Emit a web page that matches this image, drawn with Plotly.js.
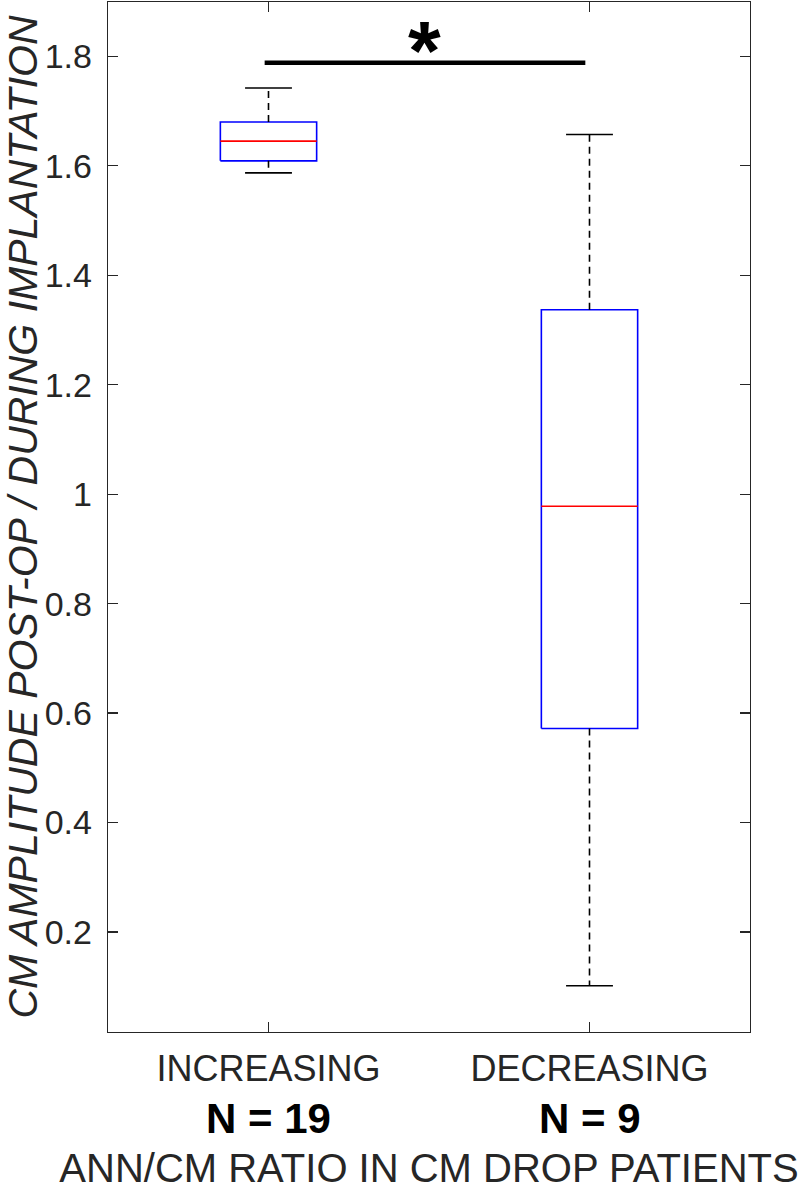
<!DOCTYPE html>
<html>
<head>
<meta charset="utf-8">
<script src="https://cdn.plot.ly/plotly-3.0.1.min.js"></script>
<style>html,body{margin:0;padding:0;background:#fff;}#chart{width:800px;height:1190px;}</style>
</head>
<body>
<div id="chart"></div>
<script>
// ---- data ----
const positions   = [1, 2];
const categories  = ['INCREASING', 'DECREASING'];
const nLabels     = ['N = 19', 'N = 9'];
const lowerWhisk  = [1.587, 0.102];
const q1          = [1.609, 0.572];
const medians     = [1.645, 0.978];
const q3          = [1.680, 1.337];
const upperWhisk  = [1.742, 1.657];
const sigPair     = [0.988, 1.987];
const sigLevel    = 1.788;
const sigMark     = '*';

// ---- styling ----
const boxHalf = 0.15, capHalf = 0.073;
const axisCol = '#262626';
const FONT = '"Liberation Sans", Arial, Helvetica, sans-serif';
const traces = [];

positions.forEach((c, i) => {
  traces.push({x:[c-boxHalf,c+boxHalf,c+boxHalf,c-boxHalf,c-boxHalf],
               y:[q1[i],q1[i],q3[i],q3[i],q1[i]], mode:'lines',
               line:{color:'#0000ff', width:1.6}, hoverinfo:'skip', showlegend:false});
  traces.push({x:[c-boxHalf,c+boxHalf], y:[medians[i],medians[i]], mode:'lines',
               line:{color:'#ff0000', width:1.6}, hoverinfo:'skip', showlegend:false});
  traces.push({x:[c,c,null,c,c], y:[q3[i],upperWhisk[i],null,q1[i],lowerWhisk[i]], mode:'lines',
               line:{color:'#000000', width:1.6, dash:'7px,5px'}, hoverinfo:'skip', showlegend:false, connectgaps:false});
  traces.push({x:[c-capHalf,c+capHalf,null,c-capHalf,c+capHalf],
               y:[upperWhisk[i],upperWhisk[i],null,lowerWhisk[i],lowerWhisk[i]], mode:'lines',
               line:{color:'#000000', width:1.6}, hoverinfo:'skip', showlegend:false, connectgaps:false});
});
traces.push({x:sigPair, y:[sigLevel,sigLevel], mode:'lines',
             line:{color:'#000000', width:4.5}, hoverinfo:'skip', showlegend:false});

const annotations = positions.map((c, i) => ({
  x:c, xref:'x', y:0, yref:'paper', yanchor:'middle', yshift:-86,
  text:nLabels[i], showarrow:false,
  font:{family:FONT, size:42, color:'#000000', weight:'bold'}
}));
annotations.push({
  x:(sigPair[0]+sigPair[1])/2, xref:'x', y:sigLevel, yref:'y', yanchor:'middle', yshift:12,
  text:sigMark, showarrow:false,
  font:{family:FONT, size:84, color:'#000000', weight:'bold'}
});

const layout = {
  width:800, height:1190,
  margin:{l:108, r:50, t:2, b:158},
  paper_bgcolor:'#ffffff', plot_bgcolor:'#ffffff',
  showlegend:false,
  font:{family:FONT, color:axisCol},
  xaxis:{
    range:[0.5,2.5], tickvals:positions, ticktext:categories,
    showgrid:false, zeroline:false, showline:true, linecolor:axisCol, linewidth:1.3,
    mirror:'ticks', ticks:'inside', ticklen:10, tickwidth:1.3, tickcolor:axisCol,
    tickfont:{family:FONT, size:36, color:axisCol}, ticklabelstandoff:4,
    automargin:false,
    title:{text:'ANN/CM RATIO IN CM DROP PATIENTS', font:{family:FONT, size:40, color:axisCol}, standoff:72}
  },
  yaxis:{
    range:[0.0174,1.8992], tickvals:[0.2,0.4,0.6,0.8,1.0,1.2,1.4,1.6,1.8],
    ticktext:['0.2','0.4','0.6','0.8','1','1.2','1.4','1.6','1.8'],
    showgrid:false, zeroline:false, showline:true, linecolor:axisCol, linewidth:1.3,
    mirror:'ticks', ticks:'inside', ticklen:10, tickwidth:1.3, tickcolor:axisCol,
    tickfont:{family:FONT, size:34, color:axisCol}, ticklabelstandoff:8,
    automargin:false,
    title:{text:'<i>CM AMPLITUDE POST-OP / DURING IMPLANTATION</i>', font:{family:FONT, size:41, color:axisCol}, standoff:8}
  },
  annotations:annotations
};

Plotly.newPlot('chart', traces, layout, {displayModeBar:false, staticPlot:true});
</script>
</body>
</html>
